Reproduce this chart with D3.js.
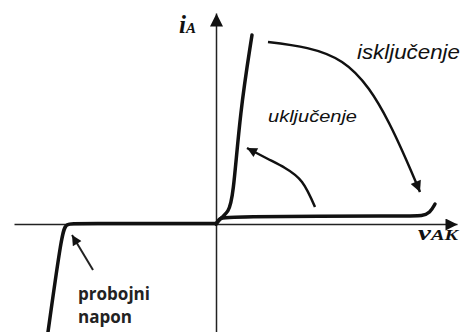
<!DOCTYPE html>
<html>
<head>
<meta charset="utf-8">
<script src="https://cdn.jsdelivr.net/npm/d3@7"></script>
<style>
  body { margin: 0; background: #fff; }
</style>
</head>
<body>
<script>
// characteristic of the thyristor (arbitrary units)
var offState = [[0, 0], [0.3, 0.5], [0.7, 0.75], [19.4, 0.8], [20.6, 0.8], [21.4, 1.1], [21.9, 2.0]];
var onState = [[0, 0], [0.6, 0.7], [1.2, 1.2], [1.7, 2.4], [2.4, 11.2], [3.6, 18.9]];
var reverse = [[0, 0.05], [-14, 0.05], [-15, 0.05], [-15.4, -0.8], [-16.8, -10.8]];
var turnOffArc = [[5.2, 18.2], [12.6, 16.2], [17.3, 10.1], [20.4, 3.2]];
var turnOnArc = [[9.9, 1.7], [8.6, 4.2], [6.9, 5.6], [5.2, 6.5], [3.1, 7.6]];
var breakdownPointer = [[-12.3, -4.6], [-14.4, -1.1]];

var labels = ['isključenje', 'uključenje', 'probojni', 'napon'];

var svgWidth = 465;
var svgHeight = 332;

var svg = d3.select('body')
  .append('svg')
    .attr('width', svgWidth)
    .attr('height', svgHeight);

var xScale = d3.scaleLinear()
    .domain([-20.2, 24.1])
    .range([14, 457]);

var yScale = d3.scaleLinear()
    .domain([-10.8, 21.1])
    .range([332, 13]);

var defs = svg.append('defs');

function arrowMarker(id, len, wid) {
  defs.append('marker')
      .attr('id', id)
      .attr('viewBox', '0 0 10 10')
      .attr('refX', 10)
      .attr('refY', 5)
      .attr('markerUnits', 'userSpaceOnUse')
      .attr('markerWidth', len)
      .attr('markerHeight', wid)
      .attr('orient', 'auto')
    .append('path')
      .attr('d', 'M0,0L10,5L0,10z')
      .attr('fill', '#111');
}

arrowMarker('axisX', 17, 12);
arrowMarker('axisY', 15, 13);
arrowMarker('arcHead', 14, 11);
arrowMarker('smallHead', 13, 10);

// axes without ticks, arrow on the ends
var x_axis = d3.axisBottom(xScale).tickValues([]).tickSizeOuter(0);
var y_axis = d3.axisLeft(yScale).tickValues([]).tickSizeOuter(0);

svg.append('g')
    .attr('transform', 'translate(0,' + yScale(0) + ')')
    .call(x_axis)
    .select('.domain')
      .attr('stroke', '#222')
      .attr('stroke-width', 1.5)
      .attr('marker-end', 'url(#axisX)');

svg.append('g')
    .attr('transform', 'translate(' + xScale(0) + ',0)')
    .call(y_axis)
    .select('.domain')
      .attr('stroke', '#222')
      .attr('stroke-width', 1.5)
      .attr('marker-end', 'url(#axisY)');

var curveLine = d3.line()
    .x(function(d) { return xScale(d[0]); })
    .y(function(d) { return yScale(d[1]); })
    .curve(d3.curveBasis);

var smoothLine = d3.line()
    .x(function(d) { return xScale(d[0]); })
    .y(function(d) { return yScale(d[1]); })
    .curve(d3.curveNatural);

[offState, onState, reverse].forEach(function(data) {
  svg.append('path')
      .attr('d', curveLine(data))
      .attr('fill', 'none')
      .attr('stroke', '#111')
      .attr('stroke-width', 3.5)
      .attr('stroke-linecap', 'round');
});

svg.append('path')
    .attr('d', smoothLine(turnOffArc))
    .attr('fill', 'none')
    .attr('stroke', '#111')
    .attr('stroke-width', 2.5)
    .attr('marker-end', 'url(#arcHead)');

svg.append('path')
    .attr('d', smoothLine(turnOnArc))
    .attr('fill', 'none')
    .attr('stroke', '#111')
    .attr('stroke-width', 2.5)
    .attr('marker-end', 'url(#smallHead)');

svg.append('path')
    .attr('d', smoothLine(breakdownPointer))
    .attr('fill', 'none')
    .attr('stroke', '#222')
    .attr('stroke-width', 2)
    .attr('marker-end', 'url(#smallHead)');

// axis names
var iLabel = svg.append('text')
    .attr('x', 179)
    .attr('y', 33)
    .attr('font-family', 'Liberation Serif, serif')
    .attr('font-weight', 'bold')
    .attr('font-style', 'italic')
    .attr('fill', '#111');
iLabel.append('tspan').attr('font-size', 25).text('i');
iLabel.append('tspan').attr('font-size', 15).text('A');

var vLabel = svg.append('text')
    .attr('x', 418)
    .attr('y', 240)
    .attr('font-family', 'Liberation Serif, serif')
    .attr('font-weight', 'bold')
    .attr('font-style', 'italic')
    .attr('fill', '#111')
    .attr('textLength', 40)
    .attr('lengthAdjust', 'spacingAndGlyphs');
vLabel.append('tspan').attr('font-size', 20).text('v');
vLabel.append('tspan').attr('font-size', 14).text('AK');

svg.append('text')
    .attr('x', 357)
    .attr('y', 59)
    .attr('font-family', 'Liberation Sans, Arial, sans-serif')
    .attr('font-style', 'italic')
    .attr('font-size', 21)
    .attr('fill', '#111')
    .attr('textLength', 103)
    .attr('lengthAdjust', 'spacingAndGlyphs')
    .text(labels[0]);

svg.append('text')
    .attr('x', 268)
    .attr('y', 122)
    .attr('font-family', 'Liberation Sans, Arial, sans-serif')
    .attr('font-style', 'italic')
    .attr('font-size', 16)
    .attr('fill', '#111')
    .attr('textLength', 89)
    .attr('lengthAdjust', 'spacingAndGlyphs')
    .text(labels[1]);

svg.append('text')
    .attr('x', 78)
    .attr('y', 300)
    .attr('font-family', 'Open Sans, sans-serif')
    .attr('font-weight', 'bold')
    .attr('font-size', 18)
    .attr('fill', '#222')
    .attr('textLength', 72)
    .attr('lengthAdjust', 'spacingAndGlyphs')
    .text(labels[2]);

svg.append('text')
    .attr('x', 78)
    .attr('y', 323)
    .attr('font-family', 'Open Sans, sans-serif')
    .attr('font-weight', 'bold')
    .attr('font-size', 18)
    .attr('fill', '#222')
    .attr('textLength', 54)
    .attr('lengthAdjust', 'spacingAndGlyphs')
    .text(labels[3]);
</script>
</body>
</html>
